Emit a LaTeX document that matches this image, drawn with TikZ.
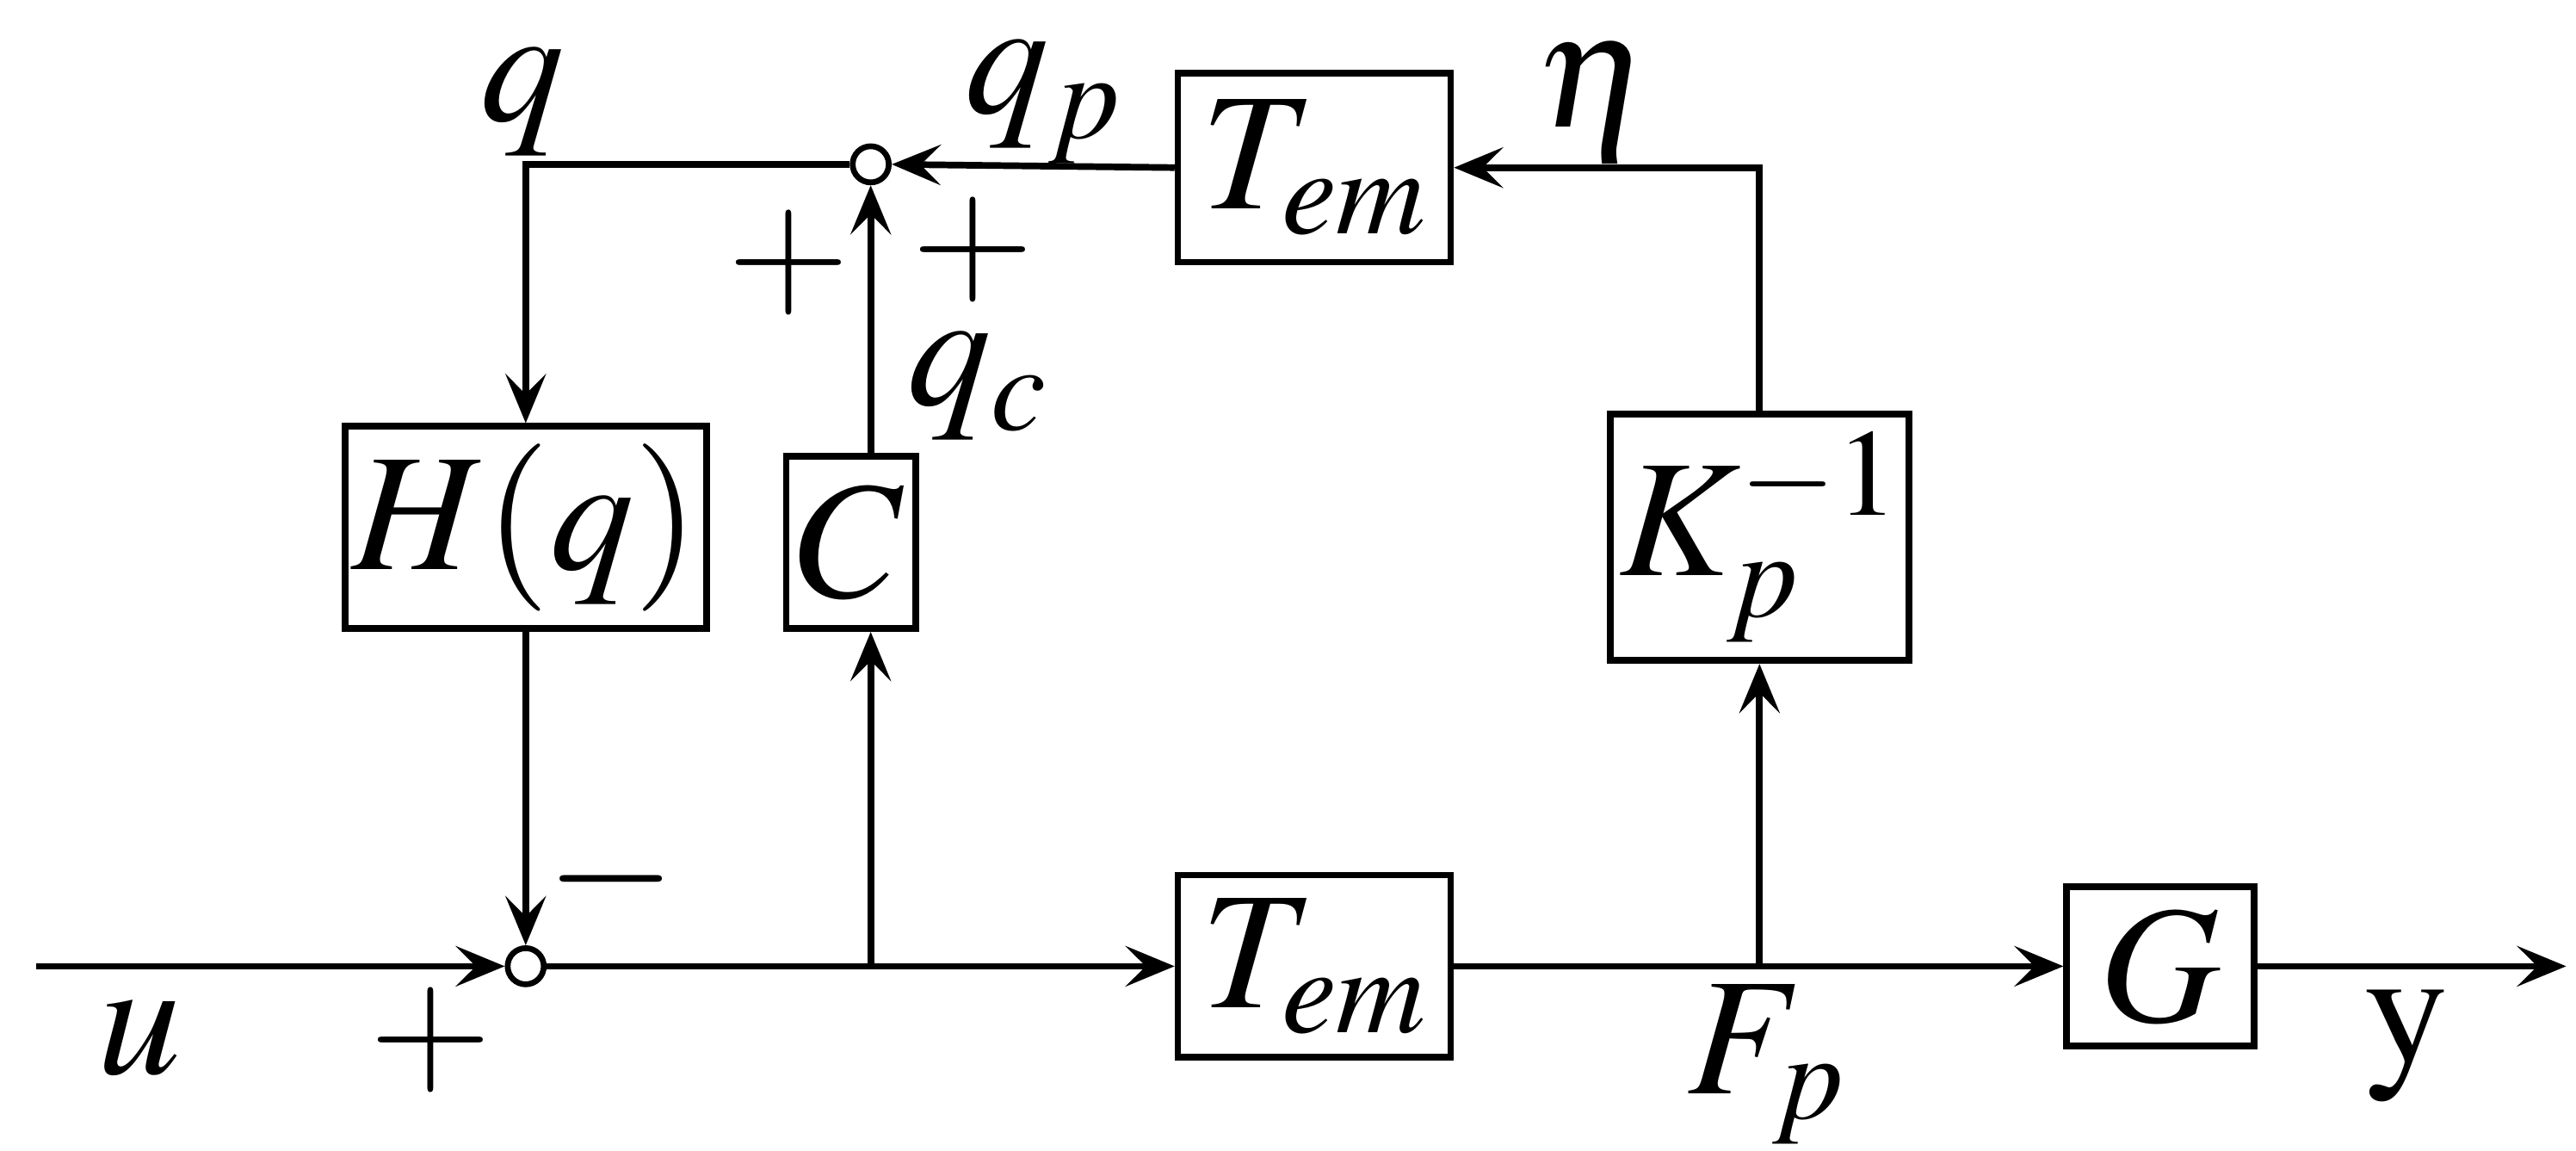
\documentclass[tikz,border=0pt]{standalone}
\usepackage{mathptmx}
\usetikzlibrary{arrows.meta}
\begin{document}
\begin{tikzpicture}[x=0.02cm,y=-0.02cm,line width=2.3pt,
  >={Stealth[length=17pt,width=14pt,inset=7pt]},
  blk/.style={draw,line width=2.3pt,inner sep=0pt},
  sum/.style={circle,draw,line width=2pt,minimum size=22*0.02cm,inner sep=0pt},
  every node/.append style={font=\fontsize{58}{64}\selectfont}]
\useasboundingbox (0,0) rectangle (1568,700);
\node[sum] (s1) at (320,588) {};
\node[sum] (s2) at (530,100) {};
\node[blk,minimum width=220*0.02cm,minimum height=123*0.02cm] (H) at (320,321) {$H(q)$};
\node[blk,minimum width=79*0.02cm,minimum height=105*0.02cm] (C) at (518,330) {$C$};
\node[blk,minimum width=166*0.02cm,minimum height=115*0.02cm] (T1) at (800,102) {$T_{em}$};
\node[blk,minimum width=182*0.02cm,minimum height=150*0.02cm] (K) at (1071,327) {$K_p^{-1}$};
\node[blk,minimum width=166*0.02cm,minimum height=111*0.02cm] (T2) at (800,588) {$T_{em}$};
\node[blk,minimum width=114*0.02cm,minimum height=97*0.02cm] (G) at (1315,588) {$G$};
\coordinate (in) at (22,588);
\coordinate (out) at (1562,588);
\coordinate (bc) at (530,588);
\coordinate (bk) at (1071,588);
\draw[->] (in) -- (s1);
\draw[->] (s1) -- (T2);
\draw[->] (T2) -- (G);
\draw[->] (G) -- (out);
\draw[->] (bc) -- (bc|-C.south);
\draw[->] (bc|-C.north) -- (s2);
\draw[->] (bk) -- (K.south);
\draw[->] (K.north) |- (T1.east);
\draw[->] (T1.west) -- (s2.east);
\draw[->] (s2) -| (H.north);
\draw[->] (H.south) -- (s1);
\node at (85,632) {$u$};
\node at (262,633) {\textbf{+}};
\node at (372,535) {$-$};
\node at (480,160) {\textbf{+}};
\node at (592,152) {\textbf{+}};
\node at (595,235) {$q_c$};
\node at (318,62) {$q$};
\node at (635,62) {$q_p$};
\node at (970,62) {$\eta$};
\node at (1075,648) {$F_p$};
\node at (1465,636) {$\mathrm{y}$};
\end{tikzpicture}
\end{document}
